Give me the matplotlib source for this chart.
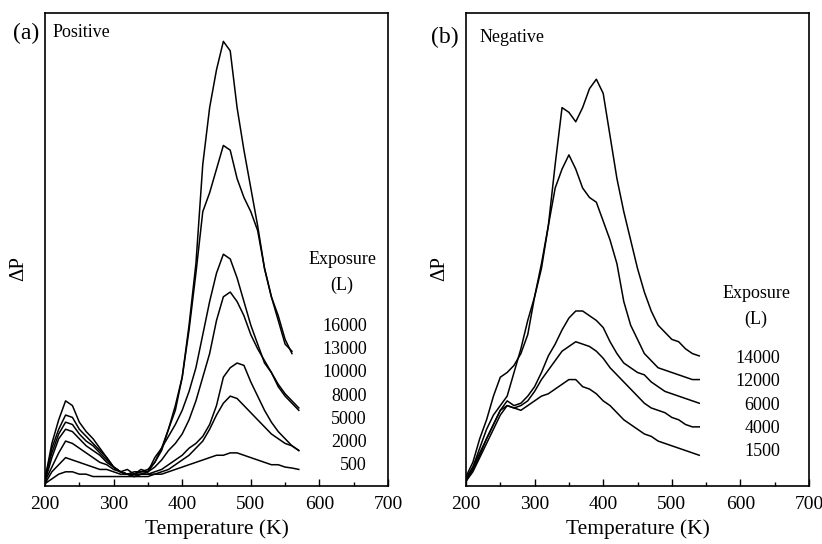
import numpy as np
import matplotlib.pyplot as plt
from matplotlib.ticker import MultipleLocator

plt.rcParams['font.family'] = ['Liberation Serif', 'DejaVu Serif']

# --- (a) positive ions: temperature grid 200..570 K, step 10 ---
pos_labels = ["16000", "13000", "10000", "8000", "5000", "2000", "500"]
pos_16000 = [1.5, 9, 14, 18, 17, 13.5, 11.5, 10, 8, 6, 4, 3, 3.5, 2.5, 3.5, 3, 5, 7.5, 12, 16,
             23, 34, 47, 68, 80, 88, 94, 92, 80, 71, 63, 55, 46, 40, 36, 31, 28]
pos_13000 = [1, 8, 12, 15, 14.5, 12, 10.5, 9, 7.5, 6, 4, 3, 2.5, 3, 3, 3.5, 5, 8, 12, 17,
             23, 33, 45, 58, 62, 67, 72, 71, 65, 61, 58, 54, 46, 40, 35, 30, 28.5]
pos_10000 = [2, 7, 11, 13.5, 13, 11, 9.5, 8.5, 7, 5.5, 4, 3, 2.5, 2.5, 3, 3, 6, 8, 10.5, 13,
             16, 20, 25, 32, 39, 45, 49, 48, 44, 39, 34, 30, 26, 24, 21.5, 19.5, 18, 16.5]
pos_8000 = [1, 6, 10, 12, 11.5, 10, 8.5, 7.5, 6.5, 5, 4, 3, 2.5, 2, 2.5, 3, 4, 5.5, 7.5, 9,
            11, 14, 18, 23, 28, 35, 40, 41, 39, 36, 32, 29, 26.5, 24, 21, 19, 17.5, 16]
pos_5000 = [1, 4, 7, 9.5, 9, 8, 7, 6, 5, 4.5, 3.5, 3, 2.5, 2.5, 2.5, 2.5, 3, 3.5, 4.5, 5.5,
            6.5, 8, 9, 10.5, 13, 17, 23, 25, 26, 25.5, 22, 19, 16, 13.5, 11.5, 10, 8.5, 7.5]
pos_2000 = [0.5, 3, 4.5, 6, 5.5, 5, 4.5, 4, 3.5, 3.5, 3, 2.5, 2.5, 2, 2.5, 2.5, 2.5, 3, 3.5, 4.5,
            5.5, 6.5, 8, 9.5, 12, 15, 17.5, 19, 18.5, 17, 15.5, 14, 12.5, 11, 10, 9, 8.5, 7.5]
pos_500 = [0.5, 1.5, 2.5, 3, 3, 2.5, 2.5, 2, 2, 2, 2, 2, 2, 2, 2, 2, 2.5, 2.5, 3, 3.5,
           4, 4.5, 5, 5.5, 6, 6.5, 6.5, 7, 7, 6.5, 6, 5.5, 5, 4.5, 4.5, 4, 3.8, 3.5]

# --- (b) negative ions: temperature grid 200..540 K, step 10 ---
neg_labels = ["14000", "12000", "6000", "4000", "1500"]
neg_14000 = [2, 5, 10, 14, 19, 23, 24, 25.5, 28, 32, 40, 47, 55, 68, 80, 79, 77, 80, 84, 86,
             83, 74, 65, 58, 52, 46, 41, 37, 34, 32.5, 31, 30.5, 29, 28, 27.5]
neg_12000 = [1.5, 4, 8, 12, 15, 17, 19, 24, 29, 35, 40, 46, 55, 63, 67, 70, 67, 63, 61, 60,
             56, 52, 47, 39, 34, 31, 28, 26.5, 25, 24.5, 24, 23.5, 23, 22.5, 22.5]
neg_6000 = [1.5, 4, 7, 10, 13, 16, 18, 17, 17.5, 19, 21, 24, 27.5, 30, 33, 35.5, 37, 37, 36, 35,
            33.5, 30.5, 28, 26, 25, 24, 23.5, 22, 21, 20, 19.5, 19, 18.5, 18, 17.5]
neg_4000 = [1, 3.5, 6.5, 10, 13, 16, 17, 16.5, 17, 18, 20, 22.5, 24.5, 26.5, 28.5, 29.5, 30.5, 30, 29.5, 28.5,
            27, 25, 23.5, 22, 20.5, 19, 17.5, 16.5, 16, 15.5, 14.5, 14, 13, 12.5, 12.5]
neg_1500 = [1, 3, 6, 9, 12, 15, 17, 16.5, 16, 17, 18, 19, 19.5, 20.5, 21.5, 22.5, 22.5, 21, 20.5, 19.5,
            18, 17, 15.5, 14, 13, 12, 11, 10.5, 9.5, 9, 8.5, 8, 7.5, 7, 6.5]

pos_series = [pos_16000, pos_13000, pos_10000, pos_8000, pos_5000, pos_2000, pos_500]
neg_series = [neg_14000, neg_12000, neg_6000, neg_4000, neg_1500]

fig = plt.figure(figsize=(8.22, 5.44), dpi=100)
ax1 = fig.add_axes([45 / 822, 58 / 544, 343 / 822, 473 / 544])
ax2 = fig.add_axes([466 / 822, 58 / 544, 343 / 822, 473 / 544])


def draw_panel(ax, series, labels, lab_x, lab_y0, head_x, head_y):
    for vals in series:
        temps = 200 + 10 * np.arange(len(vals))
        ax.plot(temps, vals, color="black", lw=1.1)
    ax.set_xlim(200, 700)
    ax.set_ylim(0, 100)
    ax.xaxis.set_major_locator(MultipleLocator(100))
    ax.xaxis.set_minor_locator(MultipleLocator(50))
    ax.tick_params(axis="x", which="both", direction="in", labelsize=14, pad=7)
    ax.tick_params(axis="x", which="major", length=5, width=1)
    ax.tick_params(axis="x", which="minor", length=3, width=1)
    ax.set_yticks([])
    for s in ax.spines.values():
        s.set_linewidth(1.2)
    ax.set_xlabel("Temperature (K)", fontsize=15.5, labelpad=5)
    ax.set_ylabel("ΔP", fontsize=15)
    ax.yaxis.set_label_coords(-0.05, 0.46)
    ax.text(head_x, head_y, "Exposure", ha="center", va="center", fontsize=13)
    ax.text(head_x, head_y - 5.5, "(L)", ha="center", va="center", fontsize=13)
    for k, lab in enumerate(labels):
        ax.text(lab_x, lab_y0 - 4.9 * k, lab, ha="right", va="center", fontsize=13)


draw_panel(ax1, pos_series, pos_labels, 669, 33.7, 633, 47.9)
draw_panel(ax2, neg_series, neg_labels, 658, 26.9, 623, 40.7)

ax1.text(0.023, 0.958, "Positive", transform=ax1.transAxes, ha="left", va="center", fontsize=13)
ax2.text(0.038, 0.949, "Negative", transform=ax2.transAxes, ha="left", va="center", fontsize=13)
fig.text(13 / 822, 1 - 33 / 544, "(a)", ha="left", va="center", fontsize=17)
fig.text(431 / 822, 1 - 37 / 544, "(b)", ha="left", va="center", fontsize=17)

fig.savefig("out.png", dpi=100)
